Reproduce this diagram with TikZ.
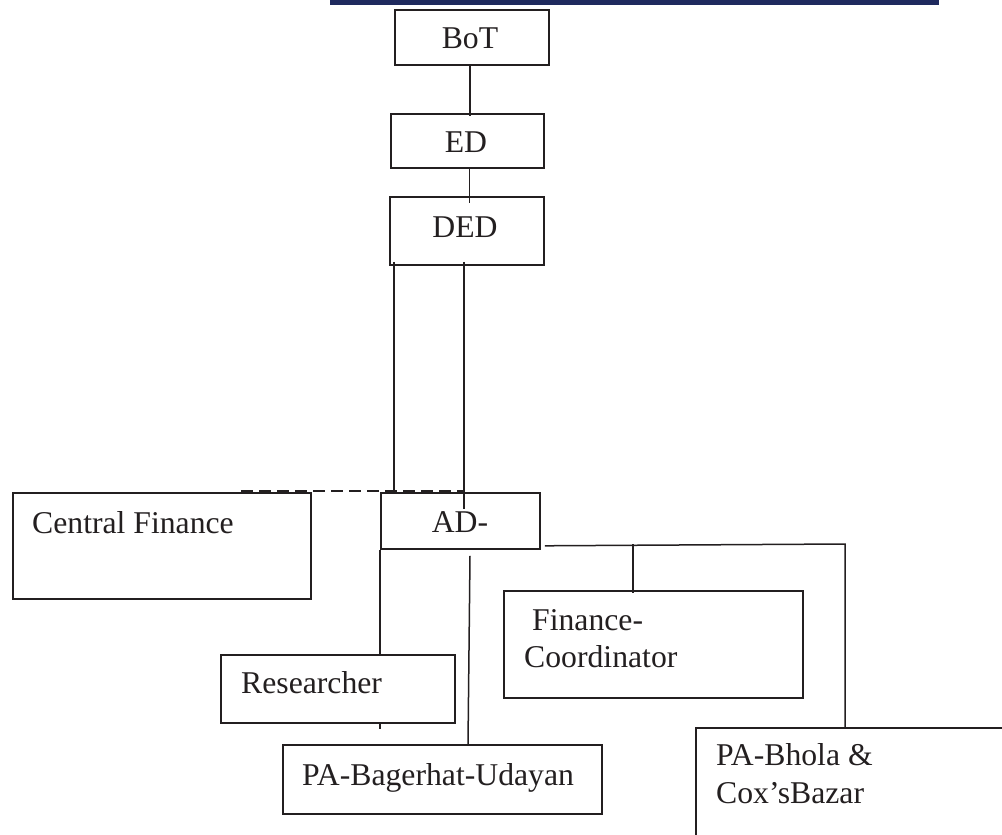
\documentclass[tikz,border=0pt]{standalone}
\usepackage{fontspec}
\setmainfont{Liberation Serif}
\definecolor{navy}{RGB}{31,42,94}
\definecolor{ink}{RGB}{35,31,32}
\begin{document}
\begin{tikzpicture}[x=1pt,y=-1pt,
  box/.style={draw=ink, line width=1.8pt, rectangle, inner sep=0pt, anchor=north west},
  lbl/.style={font=\fontsize{31.7}{37}\selectfont, inner sep=0pt, text=ink},
  conn/.style={draw=ink, line width=1.5pt}]
\useasboundingbox (0,0) rectangle (1002,835);
\fill[navy] (330,0) rectangle (939,5);
% boxes
\node[box, minimum width=154pt, minimum height=55pt] (bot) at (394,9) {};
\node[box, minimum width=153pt, minimum height=54pt] (ed) at (390,113) {};
\node[box, minimum width=154pt, minimum height=68pt] (ded) at (389,196) {};
\node[box, minimum width=298pt, minimum height=106pt] (cf) at (12,492) {};
\node[box, minimum width=159pt, minimum height=56pt] (ad) at (380,492) {};
\node[box, minimum width=299pt, minimum height=107pt] (fin) at (503,590) {};
\node[box, minimum width=234pt, minimum height=68pt] (res) at (220,654) {};
\node[box, minimum width=319pt, minimum height=69pt] (bag) at (282,744) {};
\node[box, minimum width=330pt, minimum height=130pt] (bho) at (695,727) {};
% texts
\node[lbl, anchor=base] (tbot) at (470,48) {BoT};
\node[lbl, anchor=base] (ted) at (466,152) {ED};
\node[lbl, anchor=base] (tded) at (465,237) {DED};
\node[lbl, anchor=base west] (tcf) at (32,533) {Central Finance};
\node[lbl, anchor=base] (tad) at (460,532) {AD-};
\node[lbl, anchor=base west] (tfin1) at (532,630) {Finance-};
\node[lbl, anchor=base west] (tfin2) at (524,667) {Coordinator};
\node[lbl, anchor=base west] (tres) at (241,693) {Researcher};
\node[lbl, anchor=base west] (tbag) at (302,785) {PA-Bagerhat-Udayan};
\node[lbl, anchor=base west] (tbho1) at (716,765) {PA-Bhola \&};
\node[lbl, anchor=base west] (tbho2) at (716,803) {Cox’sBazar};
% connectors
\draw[conn] ([xshift=-2]bot.south) -- ([shift={(-2,3)}]bot.south |- ed.north);
\draw[conn] ([xshift=2]ed.south) -- ([shift={(2,7)}]ed.south |- ded.north);
\draw[conn] ([shift={(5,-4)}]ded.south west) -- ([xshift=14]ad.north west);
\draw[conn] ([shift={(75,-4)}]ded.south west) -- ([shift={(84,17)}]ad.north west);
\draw[conn, dash pattern=on 12pt off 6pt] ([shift={(229,-1)}]cf.north west) -- ([shift={(84,-1)}]ad.north west);
\draw[conn] ([shift={(4,-4)}]ad.south east) -- ([shift={(150,-183)}]bho.north west) coordinate (rc) -- ([xshift=150]bho.north west);
\draw[conn] ([shift={(130,-46)}]fin.north west) -- ([shift={(130,3)}]fin.north west);
\draw[conn] (ad.south west) -- (ad.south west |- res.north);
\draw[conn] ([xshift=160]res.south west) -- ++(0,5);
\draw[conn] ([shift={(90,6)}]ad.south west) -- ([xshift=186]bag.north west);
\end{tikzpicture}
\end{document}
